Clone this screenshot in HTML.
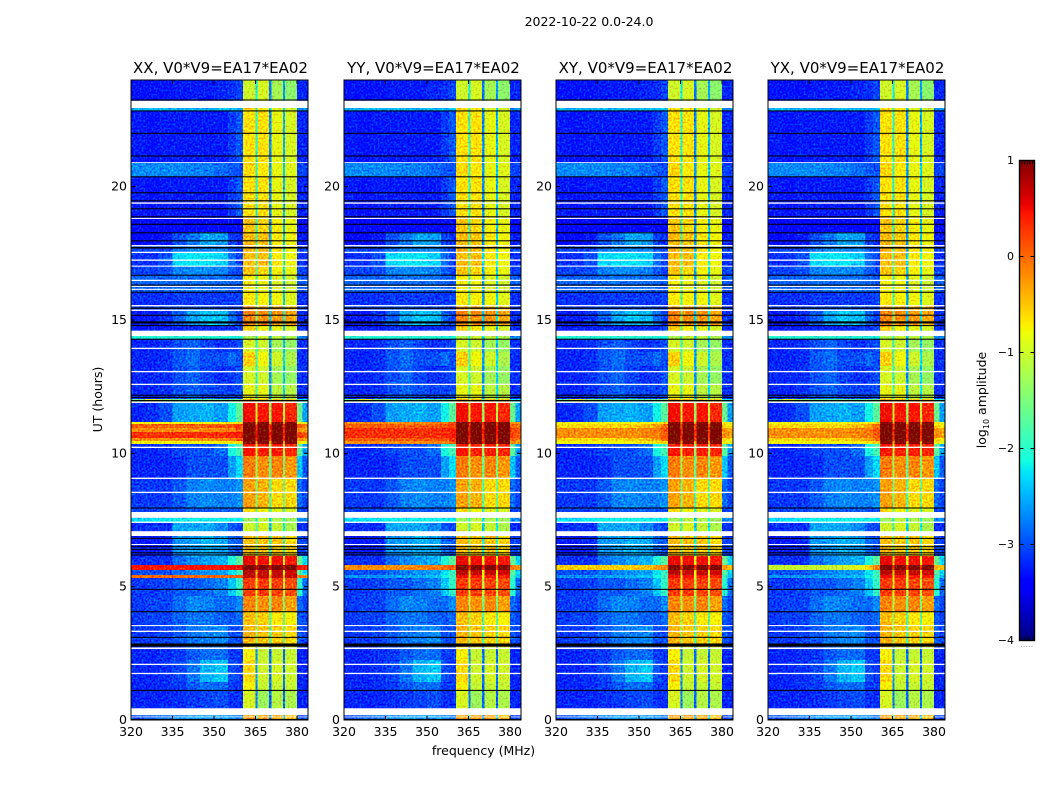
<!DOCTYPE html>
<html>
<head>
<meta charset="utf-8">
<title>2022-10-22 amplitude waterfall</title>
<style>
html,body{margin:0;padding:0;background:#fff;}
#chart{display:block;width:1050px;height:800px;font-family:"DejaVu Sans","Liberation Sans",sans-serif;fill:#000;}
</style>
</head>
<body>
<svg id="chart" xmlns="http://www.w3.org/2000/svg" width="1050" height="800" viewBox="0 0 1050 800">
  <defs>
    <filter id="speckle" x="0" y="0" width="100%" height="100%" color-interpolation-filters="sRGB">
      <feTurbulence type="fractalNoise" baseFrequency="0.5" numOctaves="1" seed="4" result="n"/>
      <feColorMatrix in="n" type="matrix" values="0 0 0 0 .45  1.8 0 0 0 -.45  0 0 0 0 .45  0 0 0 0 1" result="g"/>
      <feComposite in="SourceGraphic" in2="g" operator="arithmetic" k1="0" k2="1" k3="0.55" k4="-0.25"/>
    </filter>
  </defs>
  <text x="589" y="26" text-anchor="middle" font-size="12.5">2022-10-22 0.0-24.0</text>
  <text x="483.5" y="755" text-anchor="middle" font-size="12.5">frequency (MHz)</text>
  <text transform="translate(102,399.5) rotate(-90)" text-anchor="middle" font-size="12.5">UT (hours)</text>
  <text transform="translate(986,400) rotate(-90)" text-anchor="middle" font-size="12.5">log<tspan font-size="8" dy="3">10</tspan><tspan dy="-3"> amplitude</tspan></text>
  <g id="panels"></g>
  <g id="colorbar"></g>
</svg>
<script>
// ---------- data ----------
const panelTitles = ['XX, V0*V9=EA17*EA02','YY, V0*V9=EA17*EA02','XY, V0*V9=EA17*EA02','YX, V0*V9=EA17*EA02'];
const freqTicks = [320,335,350,365,380];
const utTicks = [0,5,10,15,20];
const colorTicks = [1,0,-1,-2,-3,-4];

// frequency bin edges (MHz): low band, four bright channels with gaps, top band
const freqEdges = [320,325,330,335,340,345,350,355,358,360.5,365.0,365.7,369.9,370.8,375.0,375.7,380,382,384];

// tops of each time segment (UT hours), descending
const segmentTops = [24,22.95,22.84,20.89,20.36,18.9,18.3,17.78,17.55,17.03,16.65,16.05,15.56,15.38,14.78,14.4,14.29,13.8,13.28,12.56,12.04,11.93,11.18,11.1,10.95,10.8,10.58,10.46,10.35,9.9,9.04,7.95,7.58,7.43,6.9,6.15,5.81,5.63,5.44,5.33,4.65,4.05,3.56,2.74,2.25,1.42,1.1,0.19];

// log10 amplitude by frequency bin, one spectrum per activity state
const topQuiet = [-3.3,-3.3,-3.3,-3.25,-3.25,-3.25,-3.2,-3.15,-3.05,-1.0,-2.2,-0.95,-2.8,-1.25,-2.6,-1.4,-3.2,-3.2];
const cyanA    = [-2.5,-2.5,-2.5,-2.5,-2.5,-2.5,-2.45,-2.45,-2.45,-0.6,-1.9,-0.7,-2.5,-0.9,-2.3,-1.0,-2.7,-2.7];
const warm     = [-3.25,-3.3,-3.25,-3.25,-3.25,-3.25,-3.25,-3.1,-2.95,-0.65,-2.1,-0.65,-2.7,-0.85,-2.5,-0.95,-3.2,-3.2];
const lightRow = [-2.7,-2.7,-2.7,-2.7,-2.75,-2.75,-2.85,-2.95,-3.0,-0.6,-2.0,-0.7,-2.6,-0.85,-2.4,-0.9,-3.05,-3.05];
const dense    = [-3.45,-3.45,-3.45,-3.45,-3.4,-3.4,-3.4,-3.35,-3.35,-0.5,-2.0,-0.6,-2.7,-0.75,-2.5,-0.85,-3.35,-3.35];
const densePat = [-3.35,-3.35,-3.25,-3.0,-2.8,-2.55,-2.6,-3.05,-3.15,-0.45,-1.9,-0.5,-2.6,-0.7,-2.4,-0.8,-3.25,-3.25];
const patchLo  = [-3.05,-3.05,-3.05,-2.8,-2.7,-2.7,-2.7,-2.95,-3.05,-0.4,-1.8,-0.45,-2.5,-0.65,-2.3,-0.8,-3.05,-3.05];
const patchHi  = [-3.15,-3.15,-3.0,-2.3,-2.25,-2.25,-2.35,-2.85,-3.05,-0.45,-1.7,-0.45,-2.3,-0.7,-2.1,-0.8,-3.15,-3.15];
const patchMid = [-3.05,-3.05,-3.0,-2.75,-2.7,-2.7,-2.75,-2.95,-3.05,-0.5,-1.8,-0.6,-2.5,-0.75,-2.3,-0.85,-3.05,-3.05];
const midBlue  = [-2.9,-2.9,-2.9,-2.85,-2.85,-2.85,-2.85,-2.9,-2.95,-0.75,-1.9,-0.8,-2.6,-0.9,-2.3,-1.0,-2.95,-2.95];
const mid2     = [-3.15,-3.15,-3.15,-3.1,-3.1,-3.1,-3.1,-3.1,-3.05,-0.7,-1.9,-0.75,-2.6,-0.8,-2.4,-0.9,-3.15,-3.15];
const hotA     = [-3.1,-3.1,-3.05,-3.0,-2.95,-2.95,-3.0,-3.05,-3.05,-0.25,-1.6,-0.3,-2.5,-0.35,-2.2,-0.45,-3.1,-3.1];
const hotB     = [-3.25,-3.25,-3.15,-2.9,-2.55,-2.4,-2.45,-2.85,-3.05,-0.15,-1.5,-0.2,-2.4,-0.25,-2.2,-0.35,-3.15,-3.15];
const hotC     = [-3.25,-3.25,-3.25,-3.2,-3.2,-3.2,-3.15,-3.15,-3.05,-0.55,-1.8,-0.75,-2.5,-0.85,-2.4,-0.95,-3.15,-3.15];
const cyanB    = [-2.05,-2.05,-2.05,-2.05,-2.05,-2.05,-2.05,-2.1,-2.1,-1.2,-2.0,-1.0,-2.4,-1.1,-2.2,-1.2,-2.7,-2.7];
const q14      = [-3.2,-3.2,-3.15,-3.0,-2.9,-3.05,-3.15,-3.1,-3.0,-0.95,-2.0,-1.0,-2.7,-1.25,-2.4,-1.35,-3.15,-3.15];
const q14b     = [-3.2,-3.2,-3.15,-2.95,-2.85,-3.0,-3.0,-2.85,-3.0,-0.55,-1.9,-0.8,-2.6,-1.0,-2.3,-1.2,-3.15,-3.15];
const q12      = [-3.2,-3.2,-3.15,-3.0,-2.9,-3.0,-3.05,-3.05,-3.0,-0.85,-1.9,-0.85,-2.6,-1.1,-2.3,-1.15,-3.15,-3.15];
const skim     = [-1.6,-0.9,-1.4,-1.6,-1.7,-1.6,-1.7,-1.6,-1.5,-0.3,-1.0,-0.4,-1.9,-0.5,-1.6,-0.5,-2.2,-2.2];
const rfiUp    = [-3.2,-3.15,-3.0,-2.6,-2.55,-2.5,-2.6,-2.15,-1.7,0.5,-1.0,0.45,-1.3,0.45,-1.1,0.35,-1.6,-2.6];
const coreEdge = [-0.8,-0.8,-0.8,-0.8,-0.8,-0.8,-0.75,-0.7,-0.6,0.95,-0.2,0.95,-0.3,0.95,-0.3,0.95,-0.7,-0.9];
const coreRed  = [0.05,0.05,0.05,0.05,0.05,0.05,0.1,0.15,0.25,1,0.35,1,0.3,1,0.3,1,0.05,-0.1];
const coreOrg  = [-0.2,-0.2,-0.2,-0.2,-0.2,-0.2,-0.15,-0.1,0.1,1,0.3,1,0.3,1,0.3,1,-0.2,-0.3];
const coreHot  = [0.3,0.3,0.3,0.3,0.3,0.3,0.3,0.35,0.4,1,0.45,1,0.45,1,0.45,1,0.2,0.1];
const coreYel  = [-0.6,-0.6,-0.6,-0.6,-0.6,-0.55,-0.45,-0.3,0,1,0.2,1,0.2,1,0.2,1,-0.6,-0.7];
const rfiLow1  = [-3.2,-3.2,-3.15,-3.05,-3.0,-3.0,-2.85,-2.1,-1.85,0.45,-1.0,0.4,-1.3,0.4,-1.2,0.35,-1.7,-2.6];
const rfiLow2  = [-3.2,-3.2,-3.2,-3.15,-3.0,-3.0,-3.0,-2.6,-2.3,-0.1,-1.3,-0.2,-1.6,-0.15,-1.5,-0.25,-2.4,-2.95];
const rfiLow3  = [-3.1,-3.1,-3.1,-2.95,-2.75,-2.7,-2.75,-2.75,-2.65,-0.3,-1.5,-0.4,-1.7,-0.6,-1.6,-0.6,-2.85,-3.05];
const rfiLow4  = [-3.05,-3.05,-3.05,-3.0,-2.95,-2.95,-2.95,-2.95,-2.95,-0.6,-1.6,-0.8,-1.9,-0.9,-1.8,-0.95,-3.05,-3.05];
const cyanC    = [-2.3,-2.25,-2.2,-2.15,-2.15,-2.15,-2.15,-2.15,-2.2,-1.3,-2.1,-1.1,-2.3,-1.2,-2.1,-1.3,-2.7,-2.7];
const patchB   = [-3.15,-3.15,-3.15,-2.55,-2.55,-2.55,-2.7,-2.95,-3.05,-1.0,-1.9,-0.95,-2.4,-1.05,-2.2,-1.2,-3.15,-3.15];
const dense6   = [-3.25,-3.25,-3.2,-2.65,-2.6,-2.5,-2.55,-2.85,-2.95,-0.45,-1.6,-0.5,-2.1,-0.5,-2.0,-0.6,-3.05,-3.05];
const rfi6     = [-3.15,-3.15,-3.15,-2.85,-2.7,-2.6,-2.5,-2.05,-1.7,0.55,-0.6,0.5,-0.9,0.5,-0.9,0.45,-1.6,-2.3];
const coreXX   = [0.45,0.45,0.45,0.45,0.45,0.45,0.45,0.5,0.55,1,0.6,1,0.6,1,0.6,1,0.45,0.4];
const coreYY   = [-0.2,-0.2,-0.2,-0.2,-0.2,-0.15,-0.1,0,0.1,1,0.4,1,0.4,1,0.4,1,-0.1,-0.2];
const coreXY   = [-0.55,-0.55,-0.55,-0.55,-0.55,-0.55,-0.5,-0.3,-0.1,1,0.3,1,0.3,1,0.3,1,-0.3,-0.4];
const coreYX   = [-1.05,-1.05,-1.05,-1.05,-1.05,-1.0,-0.9,-0.6,-0.1,1,0.25,1,0.25,1,0.25,1,-0.4,-0.5];
const rfi6b    = [-3.0,-3.0,-3.0,-2.85,-2.75,-2.65,-2.6,-2.25,-1.9,0.75,-0.5,0.7,-0.8,0.7,-0.8,0.65,-1.7,-2.3];
const lineXX   = [0,0,0,0,0,0,0,0.05,0.1,0.7,-0.3,0.7,-0.4,0.7,-0.4,0.7,-0.1,-0.2];
const lineOth  = [-2.65,-2.65,-2.65,-2.6,-2.55,-2.5,-2.45,-2.15,-1.9,0.5,-0.7,0.45,-0.9,0.45,-0.9,0.4,-1.9,-2.4];
const rfi5     = [-3.1,-3.1,-3.05,-2.95,-2.95,-2.85,-2.75,-2.4,-1.95,0.25,-0.9,0.25,-1.1,0.2,-1.1,0.15,-2.0,-2.85];
const rfi4     = [-3.1,-3.05,-3.05,-2.85,-2.7,-2.75,-2.85,-2.85,-2.7,-0.15,-1.2,-0.2,-1.5,-0.15,-1.5,-0.3,-2.85,-3.05];
const rfi4b    = [-3.1,-3.05,-3.05,-2.9,-2.8,-2.8,-2.9,-2.95,-2.85,-0.45,-1.3,-0.55,-1.7,-0.7,-1.7,-0.75,-2.95,-3.05];
const rfi3     = [-3.1,-3.1,-3.05,-2.95,-2.8,-2.75,-2.7,-3.0,-3.0,-0.4,-1.4,-0.5,-1.8,-0.55,-1.7,-0.6,-2.95,-3.05];
const qLow     = [-3.2,-3.2,-3.15,-3.1,-2.95,-2.85,-2.85,-3.1,-3.1,-0.75,-2.7,-1.05,-2.85,-1.05,-2.85,-1.05,-3.2,-3.2];
const qLowPat  = [-3.2,-3.2,-3.15,-3.05,-2.8,-2.5,-2.4,-3.0,-3.1,-0.6,-2.6,-1.0,-2.8,-0.95,-2.8,-1.0,-3.2,-3.2];
const qBot     = [-3.2,-3.2,-3.2,-3.15,-3.1,-3.05,-3.0,-3.15,-3.15,-0.95,-2.8,-1.3,-2.9,-1.15,-2.9,-1.2,-3.2,-3.2];
const botRow   = [-3.0,-2.9,-2.8,-2.7,-2.6,-2.6,-2.6,-2.7,-2.8,-0.3,-2.0,-0.3,-2.6,-0.35,-2.4,-0.5,-3.05,-3.05];

// spectrum of every time segment, one list per polarisation
const xxSegments = [topQuiet,cyanA,warm,lightRow,warm,dense,densePat,patchLo,patchHi,patchMid,midBlue,mid2,hotA,hotB,hotC,cyanB,q14,q14b,q14,q12,skim,rfiUp,coreEdge,coreRed,coreOrg,coreHot,coreOrg,coreEdge,rfiLow1,rfiLow2,rfiLow3,rfiLow4,cyanC,patchB,dense6,rfi6,coreXX,rfi6b,lineXX,rfi5,rfi4,rfi4b,rfi3,qLow,qLowPat,qLow,qBot,botRow];
const yySegments = [topQuiet,cyanA,warm,lightRow,warm,dense,densePat,patchLo,patchHi,patchMid,midBlue,mid2,hotA,hotB,hotC,cyanB,q14,q14b,q14,q12,skim,rfiUp,coreOrg,coreRed,coreHot,coreHot,coreRed,coreOrg,rfiLow1,rfiLow2,rfiLow3,rfiLow4,cyanC,patchB,dense6,rfi6,coreYY,rfi6b,lineOth,rfi5,rfi4,rfi4b,rfi3,qLow,qLowPat,qLow,qBot,botRow];
const xySegments = [topQuiet,cyanA,warm,lightRow,warm,dense,densePat,patchLo,patchHi,patchMid,midBlue,mid2,hotA,hotB,hotC,cyanB,q14,q14b,q14,q12,skim,rfiUp,coreEdge,coreYel,coreOrg,coreOrg,coreYel,coreEdge,rfiLow1,rfiLow2,rfiLow3,rfiLow4,cyanC,patchB,dense6,rfi6,coreXY,rfi6b,lineOth,rfi5,rfi4,rfi4b,rfi3,qLow,qLowPat,qLow,qBot,botRow];
const yxSegments = [topQuiet,cyanA,warm,lightRow,warm,dense,densePat,patchLo,patchHi,patchMid,midBlue,mid2,hotA,hotB,hotC,cyanB,q14,q14b,q14,q12,skim,rfiUp,coreEdge,coreYel,coreOrg,coreOrg,coreYel,coreEdge,rfiLow1,rfiLow2,rfiLow3,rfiLow4,cyanC,patchB,dense6,rfi6,coreYX,rfi6b,lineOth,rfi5,rfi4,rfi4b,rfi3,qLow,qLowPat,qLow,qBot,botRow];
const panelSegments = [xxSegments,yySegments,xySegments,yxSegments];

// flagged time ranges [start UT, end UT]: blanked (white) and zero amplitude (black)
const blankedRanges = [[23.22,22.95],[20.92,20.89],[19.41,19.36],[18.83,18.79],[17.81,17.76],[17.56,17.51],[17.27,17.22],[17.04,17.0],[16.51,16.46],[16.28,16.24],[16.17,16.13],[15.56,15.51],[15.39,15.34],[14.6,14.4],[13.96,13.91],[13.09,13.04],[12.61,12.56],[11.94,11.89],[10.25,10.2],[9.09,9.04],[8.56,8.51],[7.8,7.58],[7.44,7.39],[7.08,6.9],[6.6,6.56],[3.56,3.52],[3.35,3.3],[2.72,2.66],[2.11,2.06],[1.77,1.72],[0.44,0.18],[0.13,0.1]];
const zeroRanges = [[23.27,23.23],[22.86,22.82],[22.02,21.98],[21.17,21.13],[20.39,20.35],[19.79,19.75],[19.49,19.45],[19.19,19.15],[18.89,18.85],[18.61,18.57],[18.29,18.25],[17.99,17.95],[17.74,17.68],[16.7,16.66],[16.33,16.29],[16.06,16.02],[15.47,15.42],[15.2,15.16],[14.95,14.87],[14.81,14.77],[14.3,14.26],[12.2,12.16],[12.12,12.08],[12.0,11.95],[7.97,7.93],[6.83,6.79],[6.52,6.48],[6.42,6.38],[6.29,6.25],[6.21,6.17],[4.92,4.88],[4.08,4.04],[3.12,3.08],[2.87,2.75],[1.13,1.09],[0.04,0]];

// ---------- scales ----------
const NS = 'http://www.w3.org/2000/svg';
const panelLefts = [131,344,556,768];
const axisTop = 80, axisBottom = 720, axisWidth = 177;
const mhzPx = 2.767;
function xScale(left, mhz){ return left + (mhz - 320) * mhzPx; }
function yScale(ut){ return axisBottom - ut * (axisBottom - axisTop) / 24; }

function jet(t){
  t = Math.max(0, Math.min(1, t));
  function seg(pts){
    for(let i = 1; i < pts.length; i++){
      if(t <= pts[i][0]){
        const a = pts[i-1], b = pts[i];
        return a[1] + (b[1]-a[1]) * (t-a[0]) / (b[0]-a[0]);
      }
    }
    return pts[pts.length-1][1];
  }
  const r = seg([[0,0],[0.35,0],[0.66,1],[0.89,1],[1,0.5]]);
  const g = seg([[0,0],[0.125,0],[0.375,1],[0.64,1],[0.91,0],[1,0]]);
  const b = seg([[0,0.5],[0.11,1],[0.34,1],[0.65,0],[1,0]]);
  return 'rgb(' + Math.round(r*255) + ',' + Math.round(g*255) + ',' + Math.round(b*255) + ')';
}
function colorOf(v){ return jet((v + 4) / 5); }

function make(parent, tag, attrs, text){
  const el = document.createElementNS(NS, tag);
  for(const k in attrs){ el.setAttribute(k, attrs[k]); }
  if(text !== undefined){ el.textContent = text; }
  parent.appendChild(el);
  return el;
}
function fmtTick(v){ return v < 0 ? '\u2212' + Math.abs(v) : String(v); }

// ---------- panels ----------
const panelsRoot = document.getElementById('panels');
panelTitles.forEach(function(title, p){
  const left = panelLefts[p];
  const right = left + axisWidth;
  const g = make(panelsRoot, 'g', {});
  
  

  const cells = make(g, 'g', {filter:'url(#speckle)','shape-rendering':'crispEdges'});
  
  
  const rows = panelSegments[p];
  rows.forEach(function(spectrum, s){
    const y0 = yScale(segmentTops[s]);
    const y1 = yScale(s + 1 < segmentTops.length ? segmentTops[s+1] : 0);
    spectrum.forEach(function(v, c){
      const x0 = xScale(left, freqEdges[c]);
      const x1 = Math.min(right, xScale(left, freqEdges[c+1]));
      const cell = make(cells, 'rect', {x:x0, y:y0, width:Math.max(0,x1-x0)+0.4, height:y1-y0+0.4, fill:colorOf(v)});
      
      
    });
  });

  blankedRanges.forEach(function(r){
    const band = make(g, 'rect', {x:left, y:yScale(r[0]), width:axisWidth, height:yScale(r[1])-yScale(r[0]), fill:'#fff'});
    
    
  });
  zeroRanges.forEach(function(r){
    const band = make(g, 'rect', {x:left, y:yScale(r[0]), width:axisWidth, height:yScale(r[1])-yScale(r[0]), fill:'#000'});
    
    
  });

  const frame = make(g, 'rect', {x:left, y:axisTop, width:axisWidth, height:axisBottom-axisTop, fill:'none', stroke:'#000', 'stroke-width':1});
  
  

  freqTicks.forEach(function(f){
    const x = xScale(left, f);
    const tb = make(g, 'path', {d:'M'+x+' '+axisBottom+'v-4M'+x+' '+axisTop+'v4', stroke:'#000','stroke-width':1, fill:'none'});
    
    
    const lab = make(g, 'text', {x:x, y:736, 'text-anchor':'middle','font-size':12.5}, String(f));
    
    
  });
  utTicks.forEach(function(u){
    const y = yScale(u);
    const tl = make(g, 'path', {d:'M'+left+' '+y+'h4M'+right+' '+y+'h-4', stroke:'#000','stroke-width':1, fill:'none'});
    
    
    const lab = make(g, 'text', {x:left-4, y:y+4, 'text-anchor':'end','font-size':12.5}, String(u));
    
    
  });

  const t = make(g, 'text', {x:left+axisWidth/2+1, y:73, 'text-anchor':'middle','font-size':15}, title);
  
  
});

// ---------- colorbar ----------
const cbRoot = document.getElementById('colorbar');
const cbLeft = 1019.5, cbRight = 1034.5, cbTop = 160.5, cbBottom = 640.5;
function cbY(v){ return cbBottom - (v + 4) * (cbBottom - cbTop) / 5; }
for(let py = cbTop; py < cbBottom; py += 2){
  const v = -4 + (cbBottom - py - 1) * 5 / (cbBottom - cbTop);
  const swatch = make(cbRoot, 'rect', {x:cbLeft, y:py, width:cbRight-cbLeft, height:2.2, fill:colorOf(v), 'shape-rendering':'crispEdges'});
  
  
}
const cbFrame = make(cbRoot, 'rect', {x:cbLeft, y:cbTop, width:cbRight-cbLeft, height:cbBottom-cbTop, fill:'none', stroke:'#000','stroke-width':1.4});


colorTicks.forEach(function(v){
  const y = cbY(v);
  const tk = make(cbRoot, 'path', {d:'M'+cbLeft+' '+y+'h4M'+cbRight+' '+y+'h-4', stroke:'#000','stroke-width':1, fill:'none'});
  
  
  const lab = make(cbRoot, 'text', {x:1014, y:y+3.5, 'text-anchor':'end','font-size':11}, fmtTick(v));
  
  
});
for(let i = 0; i < 5; i++){
  const x = cbLeft + 2.5 + i * 2.6;
  const mt = make(cbRoot, 'path', {d:'M'+x+' '+cbTop+'v4M'+x+' '+cbBottom+'v-4', stroke:'#000','stroke-width':0.8, fill:'none'});
  
  
  const dot = make(cbRoot, 'rect', {x:x-1, y:646, width:1, height:1, fill:'#aaa'});
  
  
}
</script>
</body>
</html>
